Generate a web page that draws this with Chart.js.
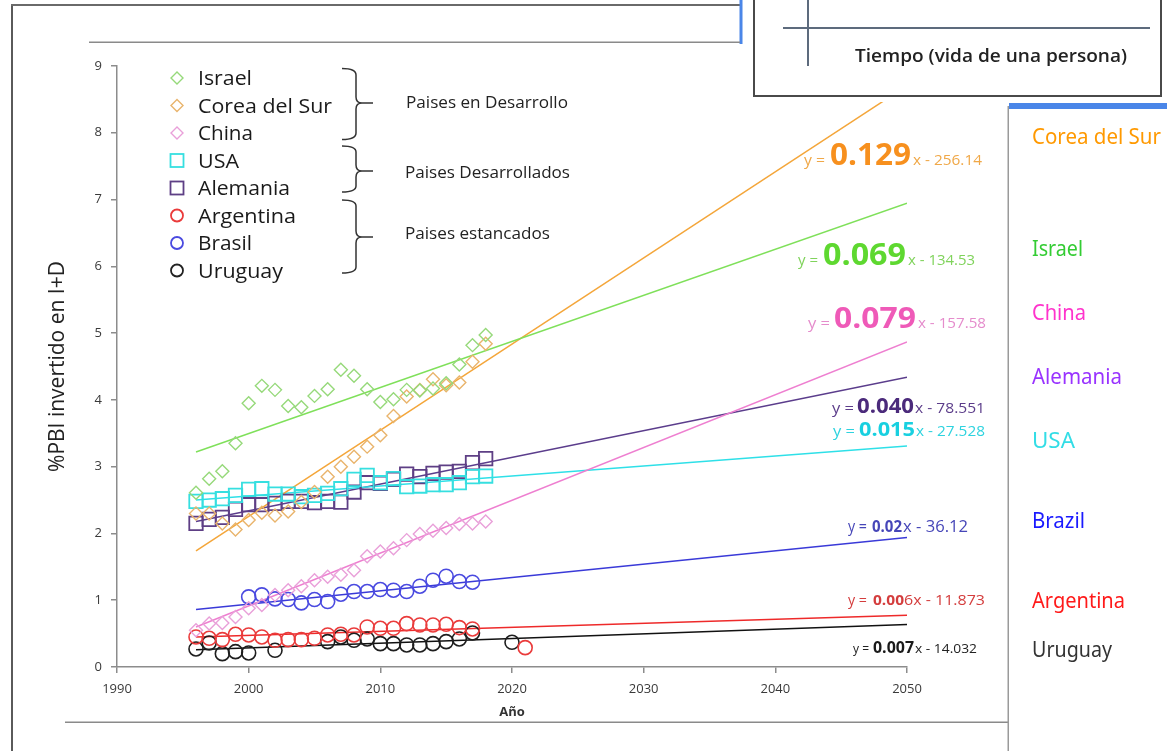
<!DOCTYPE html>
<html>
<head>
<meta charset="utf-8">
<title>Inversión en I+D</title>
<script src="https://cdn.jsdelivr.net/npm/chart.js@4.4.0/dist/chart.umd.min.js"></script>
<style>
  html, body { margin: 0; padding: 0; background: #fff; }
  #page { position: relative; width: 1167px; height: 751px; overflow: hidden; }
  #chart { position: absolute; left: 0; top: 0; }
  #ov { position: absolute; left: 0; top: 0; }
  #ov text { font-family: 'Open Sans', Lato, sans-serif; }
  #ov .side { font-family: 'Noto Sans', 'Open Sans', sans-serif; font-size: 21px; }
</style>
</head>
<body>
<div id="page">
  <canvas id="chart" width="1167" height="751"></canvas>
  <svg id="ov" width="1167" height="751" xmlns="http://www.w3.org/2000/svg">
    <!-- slide frame -->
    <rect x="11" y="4" width="2" height="747" fill="#5a5a5a"/>
    <rect x="11" y="4" width="730" height="2" fill="#6a6a6a"/>
    <rect x="739.5" y="0" width="3" height="44" fill="#4a86e8"/>
    <rect x="89" y="41.5" width="651" height="1.5" fill="#8a8a8a"/>
    <rect x="65" y="721.5" width="943" height="1.5" fill="#8a8a8a"/>
    <rect x="1007.5" y="106" width="1.5" height="645" fill="#9a9a9a"/>
    <rect x="1009" y="103" width="158" height="6" fill="#4a86e8"/>

    <!-- inset: tiempo -->
    <rect x="745" y="0" width="422" height="102" fill="#fff"/>
    <rect x="754" y="-4" width="407" height="100" fill="#fff" stroke="#4a4a4a" stroke-width="2"/>
    <line x1="783" y1="28" x2="1150" y2="28" stroke="#5d6b7d" stroke-width="2"/>
    <line x1="808" y1="0" x2="808" y2="66" stroke="#5d6b7d" stroke-width="2"/>
    <text x="855" y="62" font-size="18" font-weight="600" fill="#222" textLength="272" lengthAdjust="spacingAndGlyphs">Tiempo (vida de una persona)</text>

    <!-- series legend -->
    <g fill="none" stroke-width="1.4">
      <polygon points="177,72 183,78 177,84 171,78" stroke="#96d97a"/>
      <polygon points="177,99.5 183,105.5 177,111.5 171,105.5" stroke="#e9b46c"/>
      <polygon points="177,127 183,133 177,139 171,133" stroke="#e9a0d9"/>
      <rect x="170.5" y="154" width="13" height="13" stroke="#36dfe0" stroke-width="1.8"/>
      <rect x="170.5" y="181.5" width="13" height="13" stroke="#5e3f85" stroke-width="1.8"/>
      <circle cx="177" cy="215.5" r="6" stroke="#ea3b3b" stroke-width="1.8"/>
      <circle cx="177" cy="243" r="6" stroke="#4a4ae0" stroke-width="1.8"/>
      <circle cx="177" cy="270.5" r="6" stroke="#222" stroke-width="1.8"/>
    </g>
    <g font-size="20" fill="#1a1a1a">
      <text x="198" y="85" textLength="54" lengthAdjust="spacingAndGlyphs">Israel</text>
      <text x="198" y="112.5" textLength="134" lengthAdjust="spacingAndGlyphs">Corea del Sur</text>
      <text x="198" y="140" textLength="55" lengthAdjust="spacingAndGlyphs">China</text>
      <text x="198" y="167.5" textLength="41" lengthAdjust="spacingAndGlyphs">USA</text>
      <text x="198" y="195" textLength="92" lengthAdjust="spacingAndGlyphs">Alemania</text>
      <text x="198" y="222.5" textLength="98" lengthAdjust="spacingAndGlyphs">Argentina</text>
      <text x="198" y="250" textLength="54" lengthAdjust="spacingAndGlyphs">Brasil</text>
      <text x="198" y="277.5" textLength="85" lengthAdjust="spacingAndGlyphs">Uruguay</text>
    </g>

    <!-- group brackets -->
    <g fill="none" stroke="#333" stroke-width="1.5">
      <path d="M342 68.5 Q356 68.5 356 75 L356 97 Q356 103 362 103 Q356 103 356 109 L356 133 Q356 139.5 342 139.5 M362 103 L373 103"/>
      <path d="M342 146 Q356 146 356 152 L356 165 Q356 171 362 171 Q356 171 356 177 L356 186 Q356 192 342 192 M362 171 L373 171"/>
      <path d="M342 200 Q356 200 356 206 L356 231 Q356 237 362 237 Q356 237 356 243 L356 267 Q356 273 342 273 M362 237 L373 237"/>
    </g>
    <g font-size="16" fill="#222">
      <text x="406" y="108" textLength="162" lengthAdjust="spacingAndGlyphs">Paises en Desarrollo</text>
      <text x="405" y="177.5" textLength="165" lengthAdjust="spacingAndGlyphs">Paises Desarrollados</text>
      <text x="405" y="239" textLength="145" lengthAdjust="spacingAndGlyphs">Paises estancados</text>
    </g>

    <!-- trend equations -->
    <g>
      <text x="804" y="165" font-size="14" fill="#f0a848" textLength="21" lengthAdjust="spacingAndGlyphs">y =</text>
      <text x="830" y="165" font-size="31" font-weight="bold" fill="#f7901e" textLength="81" lengthAdjust="spacingAndGlyphs">0.129</text>
      <text x="913" y="165" font-size="14" fill="#f0a848" textLength="69" lengthAdjust="spacingAndGlyphs">x - 256.14</text>

      <text x="798" y="265" font-size="14" fill="#80d35c" textLength="20" lengthAdjust="spacingAndGlyphs">y =</text>
      <text x="823" y="265" font-size="31" font-weight="bold" fill="#5ed830" textLength="83" lengthAdjust="spacingAndGlyphs">0.069</text>
      <text x="908" y="265" font-size="14" fill="#80d35c" textLength="67" lengthAdjust="spacingAndGlyphs">x - 134.53</text>

      <text x="808" y="328" font-size="14" fill="#e58ccc" textLength="22" lengthAdjust="spacingAndGlyphs">y =</text>
      <text x="834" y="328" font-size="29" font-weight="bold" fill="#ef5ab8" textLength="82" lengthAdjust="spacingAndGlyphs">0.079</text>
      <text x="918" y="328" font-size="14" fill="#e58ccc" textLength="68" lengthAdjust="spacingAndGlyphs">x - 157.58</text>

      <text x="832" y="413" font-size="14" fill="#5c3d8a" textLength="22" lengthAdjust="spacingAndGlyphs">y =</text>
      <text x="857" y="413" font-size="21" font-weight="bold" fill="#4b2a7b" textLength="57" lengthAdjust="spacingAndGlyphs">0.040</text>
      <text x="915" y="413" font-size="14" fill="#5c3d8a" textLength="70" lengthAdjust="spacingAndGlyphs">x - 78.551</text>

      <text x="833" y="436" font-size="14" fill="#2ed3df" textLength="22" lengthAdjust="spacingAndGlyphs">y =</text>
      <text x="859" y="436" font-size="20" font-weight="bold" fill="#18d0e0" textLength="56" lengthAdjust="spacingAndGlyphs">0.015</text>
      <text x="916" y="436" font-size="14" fill="#2ed3df" textLength="69" lengthAdjust="spacingAndGlyphs">x - 27.528</text>

      <text x="848" y="532" font-size="16" fill="#4646b8" textLength="19" lengthAdjust="spacingAndGlyphs">y =</text>
      <text x="872" y="532" font-size="16" font-weight="bold" fill="#4646b8" textLength="30" lengthAdjust="spacingAndGlyphs">0.02</text>
      <text x="903" y="532" font-size="16" fill="#4646b8" textLength="65" lengthAdjust="spacingAndGlyphs">x - 36.12</text>

      <text x="848" y="605" font-size="15" fill="#d43d3d" textLength="19" lengthAdjust="spacingAndGlyphs">y =</text>
      <text x="873" y="605" font-size="15" font-weight="bold" fill="#d43d3d" textLength="31" lengthAdjust="spacingAndGlyphs">0.00</text>
      <text x="904" y="605" font-size="15" fill="#d43d3d" textLength="81" lengthAdjust="spacingAndGlyphs">6x - 11.873</text>

      <text x="853" y="653" font-size="13" fill="#222" textLength="16" lengthAdjust="spacingAndGlyphs">y =</text>
      <text x="873" y="653" font-size="16" font-weight="bold" fill="#1a1a1a" textLength="41" lengthAdjust="spacingAndGlyphs">0.007</text>
      <text x="915" y="653" font-size="13" fill="#222" textLength="62" lengthAdjust="spacingAndGlyphs">x - 14.032</text>
    </g>

    <!-- country labels, right column -->
    <text class="side" x="1032" y="144" fill="#ff9900" textLength="129" lengthAdjust="spacingAndGlyphs">Corea del Sur</text>
    <text class="side" x="1032" y="256" fill="#33cc33" textLength="51" lengthAdjust="spacingAndGlyphs">Israel</text>
    <text class="side" x="1032" y="320" fill="#ff33cc" textLength="54" lengthAdjust="spacingAndGlyphs">China</text>
    <text class="side" x="1032" y="384" fill="#9933ff" textLength="90" lengthAdjust="spacingAndGlyphs">Alemania</text>
    <text class="side" x="1032" y="448" fill="#33dde6" textLength="43" lengthAdjust="spacingAndGlyphs">USA</text>
    <text class="side" x="1032" y="528" fill="#1a1aff" textLength="53" lengthAdjust="spacingAndGlyphs">Brazil</text>
    <text class="side" x="1032" y="608" fill="#ff1a1a" textLength="93" lengthAdjust="spacingAndGlyphs">Argentina</text>
    <text class="side" x="1032" y="657" fill="#333" textLength="80" lengthAdjust="spacingAndGlyphs">Uruguay</text>
  </svg>
</div>

<script>
// ---- data: % of GDP invested in R&D ----
const years = [1996, 1997, 1998, 1999, 2000, 2001, 2002, 2003, 2004, 2005, 2006, 2007,
               2008, 2009, 2010, 2011, 2012, 2013, 2014, 2015, 2016, 2017, 2018];

const israel  = [2.61, 2.82, 2.93, 3.35, 3.95, 4.21, 4.15, 3.91, 3.89, 4.06, 4.16, 4.45,
                 4.36, 4.16, 3.97, 4.01, 4.15, 4.14, 4.17, 4.25, 4.53, 4.82, 4.97];
const korea   = [2.30, 2.30, 2.15, 2.06, 2.20, 2.31, 2.27, 2.33, 2.47, 2.62, 2.85, 3.00,
                 3.15, 3.30, 3.47, 3.76, 4.05, 4.15, 4.31, 4.22, 4.26, 4.57, 4.84];
const china   = [0.55, 0.65, 0.66, 0.75, 0.88, 0.93, 1.08, 1.15, 1.21, 1.30, 1.35, 1.38,
                 1.45, 1.66, 1.73, 1.78, 1.90, 1.99, 2.04, 2.08, 2.14, 2.15, 2.18];
const usa     = [2.48, 2.50, 2.52, 2.57, 2.66, 2.67, 2.59, 2.59, 2.55, 2.57, 2.60, 2.67,
                 2.81, 2.87, 2.76, 2.82, 2.70, 2.71, 2.73, 2.73, 2.76, 2.85, 2.86];
const germany = [2.15, 2.21, 2.24, 2.36, 2.43, 2.43, 2.45, 2.48, 2.48, 2.46, 2.48, 2.47,
                 2.62, 2.76, 2.75, 2.81, 2.89, 2.85, 2.90, 2.92, 2.93, 3.06, 3.12];

const brazilYears = [2000, 2001, 2002, 2003, 2004, 2005, 2006, 2007, 2008,
                     2009, 2010, 2011, 2012, 2013, 2014, 2015, 2016, 2017];
const brazil      = [1.05, 1.08, 1.02, 1.01, 0.96, 1.01, 0.98, 1.09, 1.13,
                     1.13, 1.16, 1.15, 1.13, 1.21, 1.30, 1.36, 1.28, 1.27];

const argentinaYears = [1996, 1997, 1998, 1999, 2000, 2001, 2002, 2003, 2004, 2005, 2006, 2007,
                        2008, 2009, 2010, 2011, 2012, 2013, 2014, 2015, 2016, 2017, 2021];
const argentina      = [0.45, 0.43, 0.41, 0.49, 0.48, 0.45, 0.40, 0.41, 0.41, 0.43, 0.48, 0.49,
                        0.48, 0.60, 0.58, 0.58, 0.65, 0.63, 0.63, 0.64, 0.59, 0.57, 0.29];

const uruguayYears = [1996, 1997, 1998, 1999, 2000, 2002, 2006, 2007, 2008, 2009,
                      2010, 2011, 2012, 2013, 2014, 2015, 2016, 2017, 2020];
const uruguay      = [0.27, 0.36, 0.20, 0.23, 0.21, 0.25, 0.38, 0.45, 0.40, 0.42,
                      0.35, 0.35, 0.33, 0.33, 0.35, 0.38, 0.42, 0.51, 0.37];

// linear trends: slope as printed in each equation, level at the first year of the fit
const trendFrom  = 1996;
const trendTo    = 2050;
const trendNames = ['Israel', 'Corea del Sur', 'China', 'USA', 'Alemania', 'Brasil', 'Argentina', 'Uruguay'];
const trendSlope = [0.069, 0.129, 0.079, 0.015, 0.040, 0.02, 0.006, 0.007];
const trendStart = [3.22, 1.74, 0.60, 2.50, 2.18, 0.86, 0.45, 0.26];

// axis ticks
const xTicks = [1990, 2000, 2010, 2020, 2030, 2040, 2050];
const yTicks = [0, 1, 2, 3, 4, 5, 6, 7, 8, 9];

// ---- styling ----
const markerColor = ['#96d97a', '#e9b46c', '#e9a0d9', '#36dfe0', '#5e3f85', '#4a4ae0', '#ea3b3b', '#1e1e1e'];
const lineColor   = ['#7fe05a', '#f4a63a', '#ee7fd0', '#2ee0e8', '#5b3d8c', '#3a3ad8', '#ee2a2a', '#111111'];
const FONT = "'Open Sans', Lato, sans-serif";

const pts = (xs, ys) => xs.map((x, i) => ({ x, y: ys[i] }));

function series(label, xs, ys, idx, style, radius, width) {
  return {
    label, data: pts(xs, ys), showLine: false,
    pointStyle: style, pointRadius: radius, pointHoverRadius: radius,
    pointBorderWidth: width, pointBackgroundColor: 'rgba(0,0,0,0)',
    pointBorderColor: markerColor[idx], borderColor: markerColor[idx], order: 1
  };
}

const trendSets = trendNames.map((name, i) => ({
  label: 'Tendencia ' + name,
  data: [{ x: trendFrom, y: trendStart[i] },
         { x: trendTo, y: trendStart[i] + trendSlope[i] * (trendTo - trendFrom) }],
  showLine: true, pointRadius: 0, borderWidth: 1.5,
  borderColor: lineColor[i], backgroundColor: lineColor[i], order: 2
}));

const datasets = [
  series('Israel', years, israel, 0, 'rectRot', 6.5, 1.4),
  series('Corea del Sur', years, korea, 1, 'rectRot', 6.5, 1.4),
  series('China', years, china, 2, 'rectRot', 6.5, 1.4),
  series('USA', years, usa, 3, 'rect', 9.5, 1.8),
  series('Alemania', years, germany, 4, 'rect', 9.5, 1.8),
  series('Brasil', brazilYears, brazil, 5, 'circle', 7, 1.6),
  series('Argentina', argentinaYears, argentina, 6, 'circle', 7, 1.6),
  series('Uruguay', uruguayYears, uruguay, 7, 'circle', 7, 1.6),
  ...trendSets
];

new Chart(document.getElementById('chart'), {
  type: 'scatter',
  data: { datasets },
  options: {
    responsive: false,
    animation: false,
    devicePixelRatio: 1,
    events: [],
    layout: { padding: { left: 0, right: 260, top: 66, bottom: 0 } },
    plugins: { legend: { display: false }, tooltip: { enabled: false } },
    scales: {
      x: {
        type: 'linear', min: xTicks[0], max: xTicks[xTicks.length - 1],
        afterFit(s) { s.height = 84; },
        afterBuildTicks(s) { s.ticks = xTicks.map(v => ({ value: v })); },
        ticks: { color: '#3a3a3a', font: { family: FONT, size: 13 }, padding: 8, callback: v => String(v) },
        grid: { drawOnChartArea: false, drawTicks: true, tickLength: 6, color: '#8c8c8c', lineWidth: 1.5 },
        border: { display: true, color: '#8c8c8c', width: 1.5 },
        title: { display: true, text: 'Año', color: '#333', font: { family: FONT, size: 13, weight: 'bold' },
                 padding: { top: 0, bottom: 31 } }
      },
      y: {
        type: 'linear', min: yTicks[0], max: yTicks[yTicks.length - 1],
        afterFit(s) { s.width = 117; },
        afterBuildTicks(s) { s.ticks = yTicks.map(v => ({ value: v })); },
        ticks: { color: '#3a3a3a', font: { family: FONT, size: 13 }, padding: 9, callback: v => String(v) },
        grid: { drawOnChartArea: false, drawTicks: true, tickLength: 6, color: '#8c8c8c', lineWidth: 1.5 },
        border: { display: true, color: '#8c8c8c', width: 1.5 },
        title: { display: true, text: '%PBI invertido en I+D', color: '#222', font: { family: FONT, size: 21 },
                 padding: { top: 45, bottom: 0 } }
      }
    }
  }
});
</script>
</body>
</html>
